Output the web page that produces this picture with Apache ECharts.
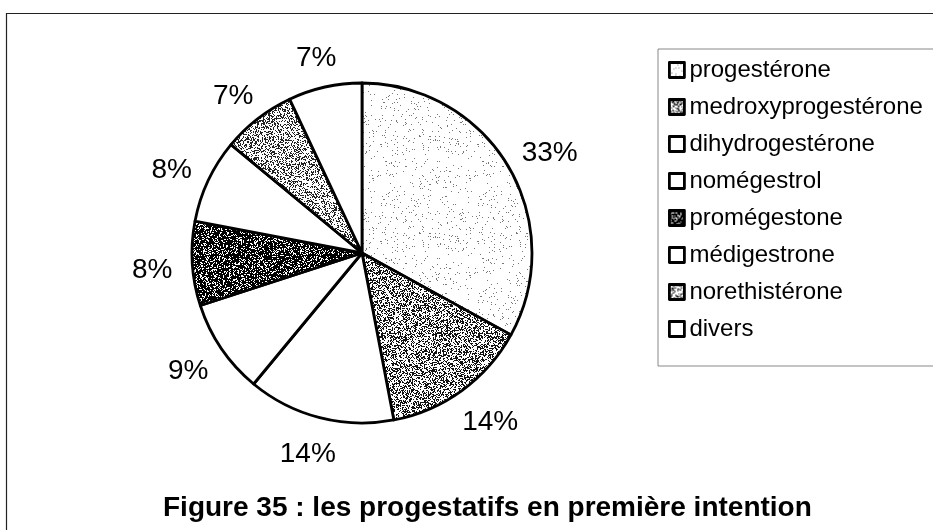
<!DOCTYPE html>
<html>
<head>
<meta charset="utf-8">
<script src="https://cdn.jsdelivr.net/npm/echarts@6/dist/echarts.min.js"></script>
<style>
  html, body { margin: 0; padding: 0; background: #fff; }
  #chart { width: 933px; height: 530px; }
</style>
</head>
<body>
<div id="chart"></div>
<script>
// Progestatifs prescrits en première intention (% des prescriptions)
const categories = ['progestérone', 'medroxyprogestérone', 'dihydrogestérone', 'nomégestrol',
                    'promégestone', 'médigestrone', 'norethistérone', 'divers'];
const shares = [33, 14, 14, 9, 8, 8, 7, 7];

// Stipple fill per slice: share of dotted pixels and dot colour (0 = plain white)
const stippleDensity = [0.035, 0.42, 0, 0, 0.74, 0, 0.36, 0];
const stippleInk = ['#777', '#111', '#000', '#000', '#000', '#000', '#222', '#000'];

const FONT = '"Liberation Sans", Arial, Helvetica, sans-serif';

// Small repeating dot texture, seeded so every render gives the same grain
function stipple(density, ink, seed) {
  const size = 97;
  const c = document.createElement('canvas');
  c.width = c.height = size;
  const g = c.getContext('2d');
  g.fillStyle = '#fff';
  g.fillRect(0, 0, size, size);
  if (density <= 0) return c;
  let s = seed;
  const next = () => { s = (s * 1103515245 + 12345) & 0x7fffffff; return s / 0x7fffffff; };
  g.fillStyle = ink;
  for (let y = 0; y < size; y++) {
    for (let x = 0; x < size; x++) {
      if (next() < density) g.fillRect(x, y, 1, 1);
    }
  }
  return c;
}

const pieData = categories.map((name, i) => ({
  name: name,
  value: shares[i],
  itemStyle: {
    color: stippleDensity[i] > 0
      ? { image: stipple(stippleDensity[i], stippleInk[i], 1234 + i * 77), repeat: 'repeat' }
      : '#fff'
  }
}));

const chart = echarts.init(document.getElementById('chart'), null, { renderer: 'canvas' });

chart.setOption({
  backgroundColor: '#fff',
  animation: false,
  title: {
    text: 'Figure 35 : les progestatifs en première intention',
    left: 163,
    top: 494,
    padding: 0,
    textStyle: { fontFamily: FONT, fontSize: 28, fontWeight: 'bold', color: '#000', lineHeight: 28 }
  },
  legend: {
    orient: 'vertical',
    left: 658,
    top: 49,
    icon: 'rect',
    itemWidth: 15,
    itemHeight: 15,
    itemGap: 11,
    padding: [8, 60, 24, 10],
    borderColor: '#888',
    borderWidth: 1,
    selectedMode: false,
    textStyle: { fontFamily: FONT, fontSize: 24, color: '#000', lineHeight: 26 },
    itemStyle: { borderColor: '#000', borderWidth: 2.8 },
    data: categories
  },
  graphic: [{
    type: 'polyline',
    silent: true,
    shape: { points: [[6.5, 540], [6.5, 13.5], [940, 13.5]] },
    style: { stroke: '#222', lineWidth: 1.2, fill: null }
  }],
  series: [{
    type: 'pie',
    center: [362, 253],
    radius: 170,
    startAngle: 90,
    clockwise: true,
    avoidLabelOverlap: false,
    data: pieData,
    itemStyle: { borderColor: '#000', borderWidth: 2.8 },
    emphasis: { disabled: true },
    label: {
      show: true,
      position: 'outside',
      formatter: '{c}%',
      fontFamily: FONT,
      fontSize: 28,
      color: '#000'
    },
    labelLine: { show: true, length: 10, length2: 0, lineStyle: { opacity: 0 } },
    // Place each percentage just outside the rim along its slice's bisector
    labelLayout: function (params) {
      const pts = params.labelLinePoints;
      if (!pts) return {};
      const dx = pts[1][0] - pts[0][0];
      const dy = pts[1][1] - pts[0][1];
      const len = Math.hypot(dx, dy) || 1;
      const ux = dx / len, uy = dy / len;
      const hw = params.labelRect.width / 2;
      const hh = params.labelRect.height / 2;
      const gap = 20;
      return {
        x: pts[0][0] + ux * gap + ux * hw,
        y: pts[0][1] + uy * gap + uy * hh + 4,
        align: 'center',
        verticalAlign: 'middle'
      };
    }
  }]
});
</script>
</body>
</html>
